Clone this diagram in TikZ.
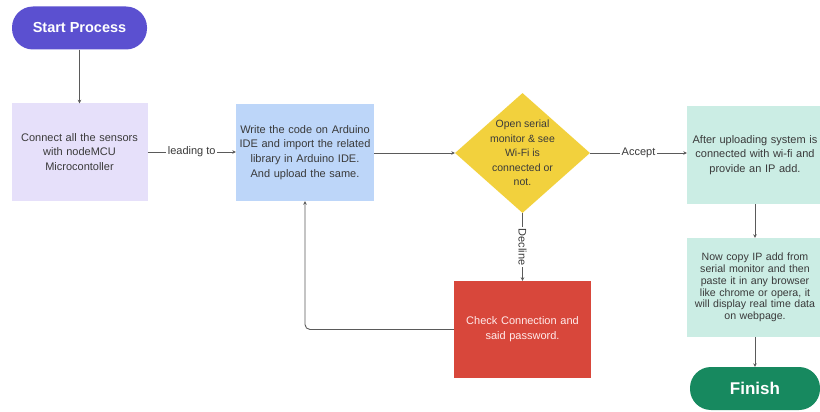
\documentclass[tikz,border=0pt]{standalone}
\usepackage{fontspec}
\setmainfont{Liberation Sans}
\usetikzlibrary{shapes.geometric,arrows.meta}
\definecolor{startc}{HTML}{5B50D0}
\definecolor{lav}{HTML}{E6E0FA}
\definecolor{lblue}{HTML}{BDD6F9}
\definecolor{yel}{HTML}{F2D13D}
\definecolor{mint}{HTML}{CBEDE4}
\definecolor{redb}{HTML}{D8473B}
\definecolor{finc}{HTML}{17895F}
\definecolor{txt}{HTML}{3A3A3A}
\definecolor{ln}{HTML}{5A5A5A}
\tikzset{
  boxn/.style={minimum width=135pt, minimum height=97pt, inner sep=1pt, align=center, text=txt, font=\fontsize{11}{14.7}\selectfont},
  pill/.style={rounded corners=21pt, minimum height=43pt, text=white, font=\bfseries},
  conn/.style={draw=ln, line width=0.9pt, -{Stealth[length=3.5pt,width=3.5pt]}},
  lbl/.style={fill=white, inner sep=1.5pt, text=txt, font=\fontsize{11}{12}\selectfont}
}
\begin{document}
\begin{tikzpicture}[x=1pt,y=-1pt]
\useasboundingbox (0,0) rectangle (820,412);
\fill[white] (0,0) rectangle (820,412);
\node[pill, fill=startc, minimum width=135pt, font=\fontsize{14.5}{16}\selectfont\bfseries] (start) at (79.5,28) {Start Process};
\node[boxn, fill=lav, text width=134pt] (b1) at (79.5,152) {Connect all the sensors\\with nodeMCU\\Microcontoller};
\node[boxn, fill=lblue, minimum width=136pt, text width=136pt] (b2) at (305,152.5) {Write the code on Arduino\\IDE and import the related\\library in Arduino IDE.\\And upload the same.};
\node[diamond, fill=yel, minimum width=135pt, minimum height=120pt, inner sep=0pt] (dec) at (522.5,153) {};
\node[align=center, text=txt, font=\fontsize{10.5}{14.5}\selectfont] (dect) at (dec.center) {Open serial\\monitor \& see\\Wi-Fi is\\connected or\\not.};
\node[boxn, fill=mint, minimum width=134pt, minimum height=98pt, text width=134pt] (b3) at (755,155) {After uploading system is\\connected with wi-fi and\\provide an IP add.};
\node[boxn, fill=mint, minimum width=134pt, minimum height=99pt, text width=134pt, font=\fontsize{10.6}{11.8}\selectfont] (b4) at (755,287.5) {Now copy IP add from\\serial monitor and then\\paste it in any browser\\like chrome or opera, it\\will display real time data\\on webpage.};
\node[pill, fill=finc, minimum width=130pt, font=\fontsize{17}{18}\selectfont\bfseries] (fin) at (755,388.5) {Finish};
\node[boxn, fill=redb, text=white!92!red, text width=135pt] (red) at (522.5,329.5) {Check Connection and\\said password.};
\coordinate (corner) at (305,329.5);
\draw[conn] (start) -- (b1);
\draw[conn] (b1.east) -- node[lbl] {leading to} (b1.east -| b2.west);
\draw[conn] (dec.west -| b2.east) -- (dec.west);
\draw[conn] (dec.east) -- node[lbl] {Accept} (dec.east -| b3.west);
\draw[conn] (dec.south) -- node[lbl, rotate=-90] {Decline} (red);
\draw[conn] (b3) -- (b4);
\draw[conn] (b4) -- (fin);
\draw[conn, rounded corners=5pt] (red.west) -- (corner) -- (b2.south);
\end{tikzpicture}
\end{document}
